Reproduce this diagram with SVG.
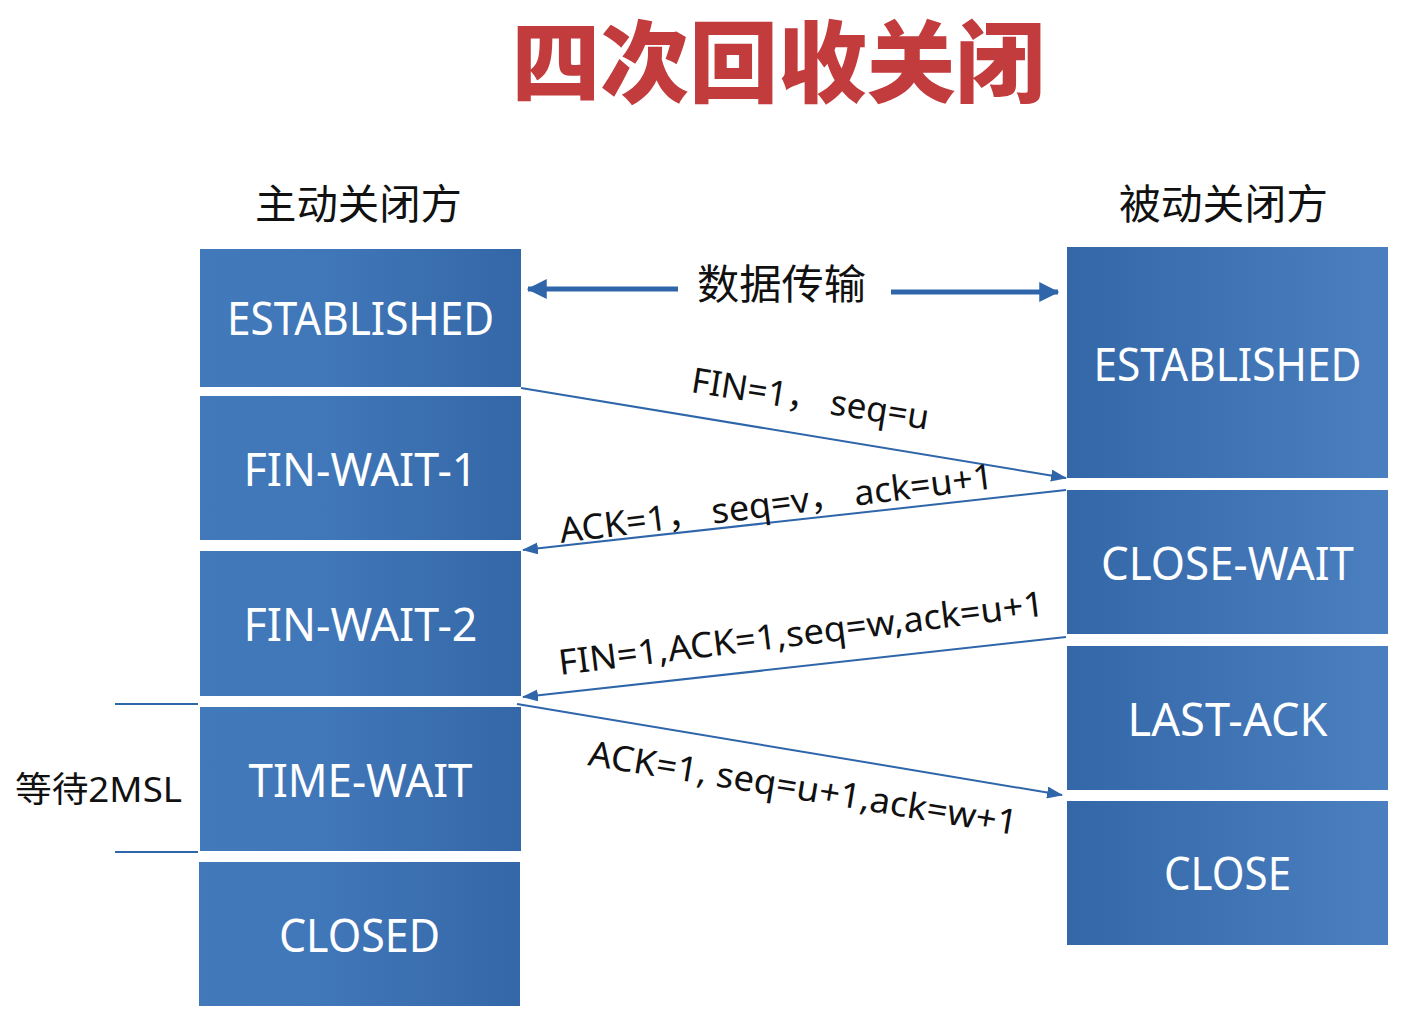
<svg xmlns="http://www.w3.org/2000/svg" width="1402" height="1024" viewBox="0 0 1402 1024">
<defs>
<linearGradient id="gl" x1="0" y1="0" x2="1" y2="0">
<stop offset="0" stop-color="#4279ba"/>
<stop offset="0.4" stop-color="#4077b8"/>
<stop offset="1" stop-color="#3467a8"/>
</linearGradient>
<linearGradient id="gr" x1="0" y1="0" x2="1" y2="0">
<stop offset="0" stop-color="#3467a8"/>
<stop offset="1" stop-color="#4a7fc0"/>
</linearGradient>
<marker id="ah" viewBox="0 0 16 12" refX="15" refY="6" markerWidth="16" markerHeight="12" markerUnits="userSpaceOnUse" orient="auto">
<path d="M0,0 L16,6 L0,12 z" fill="#2f66aa"/>
</marker>
<marker id="ahb" viewBox="0 0 16 16" refX="15" refY="8" markerWidth="20" markerHeight="20" markerUnits="userSpaceOnUse" orient="auto">
<path d="M0,0 L16,8 L0,16 z" fill="#2f66aa"/>
</marker>
<style>
.bl{fill:url(#gl)}
.br{fill:url(#gr)}
.st{font-family:"Noto Sans","Open Sans","Liberation Sans",sans-serif;font-size:46px;fill:#ffffff;text-anchor:middle}
.hd{font-family:"Noto Sans CJK SC",sans-serif;font-size:41px;fill:#111111}
.lb{font-family:"Noto Sans","Open Sans","Liberation Sans","Noto Sans CJK SC",sans-serif;font-size:35px;fill:#111111}
.cn{stroke:#2f66aa;stroke-width:2;fill:none}
</style>
</defs>
<rect width="1402" height="1024" fill="#ffffff"/>
<text id="title" x="778" y="95" text-anchor="middle" font-family="Noto Sans CJK SC, sans-serif" font-weight="900" font-size="89" fill="#c23b3d" textLength="533" lengthAdjust="spacingAndGlyphs">四次回收关闭</text>
<text id="h-left" class="hd" x="255" y="219" textLength="207" lengthAdjust="spacingAndGlyphs">主动关闭方</text>
<text id="h-right" class="hd" x="1119" y="219" textLength="209" lengthAdjust="spacingAndGlyphs">被动关闭方</text>

<g id="l-established"><rect class="bl" x="200" y="249" width="321" height="138"/><text class="st" x="360.5" y="335" textLength="267" lengthAdjust="spacingAndGlyphs">ESTABLISHED</text></g>
<g id="l-finwait1"><rect class="bl" x="200" y="396" width="321" height="144"/><text class="st" x="360.5" y="486" textLength="234" lengthAdjust="spacingAndGlyphs">FIN-WAIT-1</text></g>
<g id="l-finwait2"><rect class="bl" x="200" y="551" width="321" height="145"/><text class="st" x="360.5" y="641" textLength="234" lengthAdjust="spacingAndGlyphs">FIN-WAIT-2</text></g>
<g id="l-timewait"><rect class="bl" x="200" y="707" width="321" height="144"/><text class="st" x="360.5" y="797" textLength="224" lengthAdjust="spacingAndGlyphs">TIME-WAIT</text></g>
<g id="l-closed"><rect class="bl" x="199" y="862" width="321" height="144"/><text class="st" x="359.5" y="952" textLength="161" lengthAdjust="spacingAndGlyphs">CLOSED</text></g>

<g id="r-established"><rect class="br" x="1067" y="247" width="321" height="231"/><text class="st" x="1227.5" y="381" textLength="268" lengthAdjust="spacingAndGlyphs">ESTABLISHED</text></g>
<g id="r-closewait"><rect class="br" x="1067" y="490" width="321" height="144"/><text class="st" x="1227.5" y="580" textLength="253" lengthAdjust="spacingAndGlyphs">CLOSE-WAIT</text></g>
<g id="r-lastack"><rect class="br" x="1067" y="646" width="321" height="144"/><text class="st" x="1227.5" y="736" textLength="200" lengthAdjust="spacingAndGlyphs">LAST-ACK</text></g>
<g id="r-close"><rect class="br" x="1067" y="801" width="321" height="144"/><text class="st" x="1227.5" y="890" textLength="127" lengthAdjust="spacingAndGlyphs">CLOSE</text></g>

<g id="connectors">
<line x1="678" y1="289" x2="528" y2="289" stroke="#2f66aa" stroke-width="5" marker-end="url(#ahb)"/>
<line x1="891" y1="292" x2="1058" y2="292" stroke="#2f66aa" stroke-width="5" marker-end="url(#ahb)"/>
<line class="cn" x1="521" y1="388" x2="1066" y2="478" marker-end="url(#ah)"/>
<line class="cn" x1="1066" y1="490" x2="523" y2="550" marker-end="url(#ah)"/>
<line class="cn" x1="1066" y1="637" x2="523" y2="697" marker-end="url(#ah)"/>
<line class="cn" x1="517" y1="704" x2="1062" y2="795" marker-end="url(#ah)"/>
<line class="cn" x1="115" y1="704" x2="198" y2="704"/>
<line class="cn" x1="115" y1="852" x2="198" y2="852"/>
</g>

<g id="labels">
<text class="hd" x="697" y="299" textLength="169" lengthAdjust="spacingAndGlyphs">数据传输</text>
<text class="lb" x="690" y="392" transform="rotate(9 690 392)" textLength="240" lengthAdjust="spacingAndGlyphs">FIN=1， seq=u</text>
<text class="lb" x="561" y="543" transform="rotate(-7.2 561 543)" textLength="437" lengthAdjust="spacingAndGlyphs">ACK=1， seq=v， ack=u+1</text>
<text class="lb" x="560" y="675" transform="rotate(-7 560 675)" textLength="489" lengthAdjust="spacingAndGlyphs">FIN=1,ACK=1,seq=w,ack=u+1</text>
<text class="lb" x="587" y="765" transform="rotate(9.3 587 765)" textLength="434" lengthAdjust="spacingAndGlyphs">ACK=1, seq=u+1,ack=w+1</text>
<text class="lb" x="15" y="802" font-size="36" textLength="167" lengthAdjust="spacingAndGlyphs" font-family="Noto Sans CJK SC, sans-serif">等待2MSL</text>
</g>
</svg>
